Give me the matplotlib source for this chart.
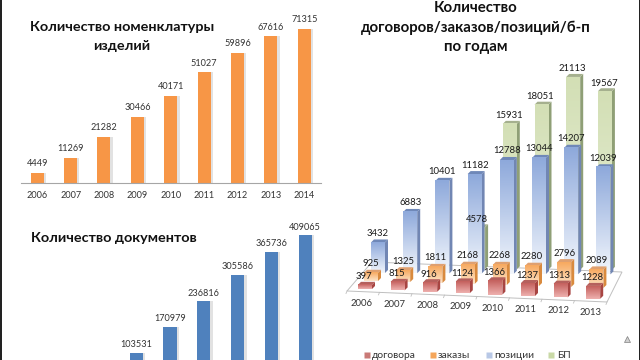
import numpy as np
import matplotlib
matplotlib.use("Agg")
import matplotlib.pyplot as plt
from matplotlib.colors import LinearSegmentedColormap
from matplotlib.patches import Polygon

plt.rcParams['font.family'] = ['Lato', 'DejaVu Sans']

years_items = ['2006', '2007', '2008', '2009', '2010', '2011', '2012', '2013', '2014']
items = [4449, 11269, 21282, 30466, 40171, 51027, 59896, 67616, 71315]

docs_pos = [3, 4, 5, 6, 7, 8]
docs = [103531, 170979, 236816, 305586, 365736, 409065]

years_3d = ['2006', '2007', '2008', '2009', '2010', '2011', '2012', '2013']
dogovora = [397, 815, 916, 1124, 1366, 1237, 1313, 1228]
zakazy = [925, 1325, 1811, 2168, 2268, 2280, 2796, 2089]
pozicii = [3432, 6883, 10401, 11182, 12788, 13044, 14207, 12039]
bp = [0, 0, 0, 4578, 15931, 18051, 21113, 19567]
legend_names = ['договора', 'заказы', 'позиции', 'БП']

W, H = 640, 360
fig = plt.figure(figsize=(W / 100, H / 100), dpi=100, facecolor='white')


def box(x0, y_top, x1, y_bottom):
    return [x0 / W, 1 - y_bottom / H, (x1 - x0) / W, (y_bottom - y_top) / H]


def flat_bars(ax, pos, values, color, ymax, label_off):
    # soft shadow to the right, then the bar
    ax.bar(np.array(pos) + 0.07, values, width=0.39, color='#e2e2e2', zorder=1)
    ax.bar(pos, values, width=0.39, color=color, zorder=2)
    for p, v in zip(pos, values):
        ax.text(p, v + label_off, str(v), ha='center', va='bottom', fontsize=6.6, color='#333333')
    ax.set_ylim(0, ymax)
    for s in ['top', 'right', 'left']:
        ax.spines[s].set_visible(False)
    ax.set_yticks([])
    ax.patch.set_alpha(0)


# top left chart
ax1 = fig.add_axes(box(20.5, 0, 321, 182.5))
flat_bars(ax1, range(len(items)), items, '#f79646', 182.5 / 154 * 71315, 2200)
ax1.set_xlim(-0.5, 8.5)
ax1.set_xticks(range(len(items)), years_items, fontsize=6.6, color='#333333')
ax1.tick_params(axis='x', length=0, pad=6)
ax1.spines['bottom'].set_color('#a6a6a6')

# bottom left chart, runs off the bottom of the slide
ax2 = fig.add_axes(box(17, 200, 321, 392.6))
flat_bars(ax2, docs_pos, docs, '#4f81bd', 192.6 / 157.6 * 409065, 9000)
ax2.set_xlim(-0.53, 8.47)
ax2.set_xticks([])
ax2.spines['bottom'].set_visible(False)

for s, x, y, fs in [('Количество номенклатуры', 122, 27, 10.4), ('изделий', 122, 46, 10.4),
                    ('Количество документов', 114, 238, 10.4),
                    ('Количество', 476, 8, 10.8), ('договоров/заказов/позиций/б-п', 476, 28, 10.8),
                    ('по годам', 476, 47, 10.8)]:
    fig.text(x / W, 1 - y / H, s, ha='center', va='center', fontsize=fs, fontweight='bold', color='#111111')

# pseudo 3d chart on a pixel overlay
ax3 = fig.add_axes([0, 0, 1, 1])
ax3.set_xlim(0, W)
ax3.set_ylim(H, 0)
ax3.axis('off')
ax3.patch.set_alpha(0)

# x of first bar, x step, base y of first bar, base tilt, px per unit
series = [
    (dogovora, 365, 32.6, 289, 1.4, 0.0105, ('#c4605d', '#eeb0ae', '#a84542', '#b5605d')),
    (zakazy, 371, 32.2, 281, 1.0, 0.0089, ('#f7a95f', '#fde6cc', '#d98a3e', '#dfa070')),
    (pozicii, 378, 32.2, 273, 0.2, 0.0089, ('#8ea9db', '#f2f6fc', '#7186b3', '#6f88b8')),
    (bp, 383, 31.7, 268.5, 0.2, 0.00913, ('#d3dfb5', '#e8efd8', '#8f9f76', '#a5b08e')),
]
BAR_W = 14
SIDE = 3
RISE = 3


def bar_3d(i, value, spec, order):
    vals, x0, dx, y0, tilt, scale, cols = spec
    xc = x0 + dx * i
    base = y0 + tilt * i
    top = base - value * scale
    left, right = xc - BAR_W / 2, xc + BAR_W / 2
    z = 5 + order * 10 + i * 0.1
    ax3.add_patch(Polygon([(right, top), (right + SIDE, top - RISE), (right + SIDE, base - RISE), (right, base)],
                          fc=cols[2], ec='none', zorder=z))
    ax3.add_patch(Polygon([(left, top), (left + SIDE, top - RISE), (right + SIDE, top - RISE), (right, top)],
                          fc=cols[3], ec='none', zorder=z))
    c = LinearSegmentedColormap.from_list('g', [cols[0], cols[1]])
    ax3.imshow(np.linspace(0, 1, 64).reshape(-1, 1), extent=(left, right, base, top), cmap=c,
               aspect='auto', zorder=z + 0.1, vmin=0, vmax=1)
    return xc, top


# floor
ax3.add_patch(Polygon([(347, 291), (607, 302), (622, 272), (372, 262)], fc='white', ec='#bfbfbf', lw=0.7, zorder=1))
for i in range(9):
    ax3.plot([347 + i * 32.5, 346 + i * 32.5], [291 + i * 1.37, 293.5 + i * 1.37], color='#bfbfbf', lw=0.6, zorder=1)

label_off = [(-1, -8), (0, -9), (0, -9), (-1, -8)]
order_back = [3, 2, 1, 0]
for order, k in enumerate(order_back):
    spec = series[k]
    vals = spec[0]
    for i, v in enumerate(vals):
        if v == 0:
            continue
        xc, top = bar_3d(i, v, spec, order)
        ox, oy = label_off[k]
        ax3.text(xc + ox, top + oy, str(v), ha='center', va='center', fontsize=6.8,
                 color='#1a1a1a', zorder=60)

ax3.set_xlim(0, W)
ax3.set_ylim(H, 0)

for i, y in enumerate(years_3d):
    ax3.text(362 + i * 32.7, 303 + i * 1.3, y, ha='center', va='center', fontsize=6.8, color='#333333', zorder=60)

for name, xm, xt, c in zip(legend_names, [367, 433, 489, 551], [372, 438, 494, 557],
                           ['#c97a77', '#f5a65b', '#b8c8e6', '#c9d9a6']):
    ax3.plot([xm], [355], marker='s', ms=3.8, color=c, mec='none', zorder=60)
    ax3.text(xt, 355, name, ha='left', va='center', fontsize=7.4, color='#333333', zorder=60)

# mouse cursor
ax3.plot([627], [339], marker='^', ms=4, mfc='#d0d0d0', mec='#808080', mew=0.5, zorder=60)

# dark edges of the screen capture
ax3.add_patch(Polygon([(0, 0), (2, 0), (2, H), (0, H)], fc='#222222', ec='none', zorder=70))
ax3.add_patch(Polygon([(638.5, 0), (W, 0), (W, H), (638.5, H)], fc='#222222', ec='none', zorder=70))

fig.savefig('out.png', dpi=100)
